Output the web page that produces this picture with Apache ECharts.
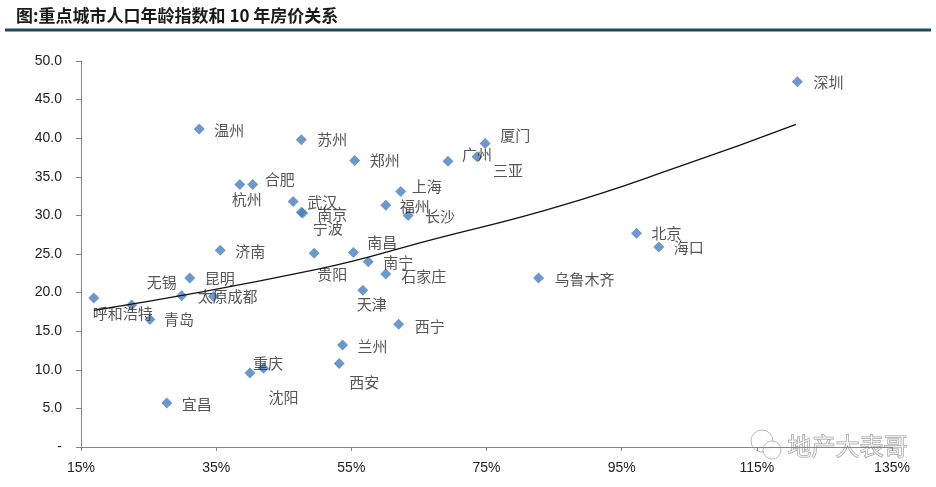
<!DOCTYPE html>
<html>
<head>
<meta charset="utf-8">
<script src="https://cdn.jsdelivr.net/npm/echarts@6/dist/echarts.min.js"></script>
<style>
  html, body { margin: 0; padding: 0; background: #fff; }
  #chart { width: 936px; height: 487px; }
</style>
</head>
<body>
<div id="chart"></div>
<script>
// 城市、人口年龄指数(x, %)、10年房价涨幅(y)
const cities = ['深圳', '温州', '苏州', '厦门', '广州', '三亚', '郑州', '杭州', '合肥', '上海',
  '武汉', '福州', '南京', '宁波', '长沙', '北京', '海口', '济南', '贵阳', '南昌',
  '南宁', '石家庄', '乌鲁木齐', '昆明', '太原', '成都', '呼和浩特', '无锡', '青岛', '天津',
  '西宁', '兰州', '西安', '重庆', '沈阳', '宜昌']
const ageIndex = [121.0, 32.5, 47.6, 74.8, 69.3, 73.6, 55.5, 38.5, 40.4, 62.3,
  46.4, 60.1, 47.6, 47.8, 63.4, 97.2, 100.5, 35.6, 49.5, 55.3,
  57.5, 60.1, 82.7, 31.1, 29.9, 34.6, 16.9, 22.5, 25.2, 56.7,
  62.0, 53.7, 53.2, 40.0, 42.0, 27.7]
const priceIdx = [47.3, 41.2, 39.8, 39.3, 37.0, 37.6, 37.1, 34.0, 34.0, 33.1,
  31.8, 31.3, 30.4, 30.3, 30.0, 27.7, 25.9, 25.5, 25.1, 25.2,
  24.0, 22.4, 21.9, 21.9, 19.6, 19.5, 19.3, 18.4, 16.5, 20.3,
  15.9, 13.2, 10.8, 9.6, 10.2, 5.7]

// 趋势线
const trendX = [16.9, 49.9, 67.1, 85.8, 104.1, 120.8]
const trendY = [17.7, 23.0, 26.9, 31.2, 36.5, 41.8]

const xTicks = [15, 35, 55, 75, 95, 115, 135]
const yTicks = [0, 5, 10, 15, 20, 25, 30, 35, 40, 45, 50]

// 标签偏移(相对点中心, px)
const labelOffset = {
  '深圳': [31, 0], '温州': [30, 1], '苏州': [31, 0], '厦门': [30, -8], '广州': [29, -7],
  '三亚': [31, 14], '郑州': [30, 0], '杭州': [7, 15], '合肥': [27, -5], '上海': [26, -5],
  '武汉': [29, 1], '福州': [29, 1], '南京': [31, 2], '宁波': [25, 15], '长沙': [32, 1],
  '北京': [30, 0], '海口': [30, 0], '济南': [30, 1], '贵阳': [18, 21], '南昌': [29, -10],
  '南宁': [30, 1], '石家庄': [38, 2], '乌鲁木齐': [46, 1], '昆明': [30, 0], '太原': [31, 1],
  '成都': [29, 0], '呼和浩特': [29, 15], '无锡': [30, -23], '青岛': [29, 0], '天津': [9, 14],
  '西宁': [31, 2], '兰州': [30, 1], '西安': [25, 19], '重庆': [18, -10], '沈阳': [20, 29],
  '宜昌': [30, 1]
}

const chart = echarts.init(document.getElementById('chart'))
const scatterData = cities.map((name, i) => ({
  name: name,
  value: [ageIndex[i], priceIdx[i]],
  label: { offset: labelOffset[name] || [30, 0] }
}))

const option = {
  animation: false,
  backgroundColor: '#fff',
  graphic: [
    {
      type: 'text', left: 16, top: 7,
      style: {
        text: '图:重点城市人口年龄指数和 10 年房价关系',
        font: 'bold 17px "Noto Sans CJK SC"', fill: '#1a1a1a'
      }
    },
    {
      type: 'rect', shape: { x: 5, y: 28.5, width: 926, height: 3 },
      style: { fill: '#1f4a5c' }
    },
    // 水印
    {
      type: 'circle', shape: { cx: 762, cy: 441, r: 11 },
      style: { fill: 'rgba(255,255,255,0.7)', stroke: '#bbb', lineWidth: 1 }
    },
    {
      type: 'circle', shape: { cx: 772, cy: 450, r: 9 },
      style: { fill: 'rgba(255,255,255,0.8)', stroke: '#bbb', lineWidth: 1 }
    },
    {
      type: 'text', left: 787, top: 433,
      style: {
        text: '地产大表哥', font: '24px "Noto Sans CJK SC"',
        fill: 'rgba(255,255,255,0.6)', stroke: '#999', lineWidth: 1
      }
    }
  ],
  grid: { left: 81, right: 44, top: 61, bottom: 40 },
  xAxis: {
    type: 'value', min: 15, max: 135, interval: 20,
    axisLine: { lineStyle: { color: '#868686' } },
    axisTick: { show: true, length: 4, lineStyle: { color: '#868686' } },
    splitLine: { show: false },
    axisLabel: {
      margin: 14, color: '#222', fontSize: 14, fontFamily: 'Liberation Sans',
      formatter: v => (xTicks.includes(v) ? v + '%' : '')
    }
  },
  yAxis: {
    type: 'value', min: 0, max: 50, interval: 5,
    axisLine: { show: true, lineStyle: { color: '#868686' } },
    axisTick: { show: true, length: 5, lineStyle: { color: '#868686' } },
    splitLine: { show: false },
    axisLabel: {
      margin: 19, color: '#222', fontSize: 14, fontFamily: 'Liberation Sans',
      formatter: v => (yTicks.includes(v) ? (v === 0 ? '-' : v.toFixed(1)) : '')
    }
  },
  series: [
    {
      type: 'scatter',
      symbol: 'diamond',
      symbolSize: 11,
      itemStyle: { color: '#4a7ebb' },
      label: {
        show: true, position: 'inside', formatter: '{b}',
        color: '#2a2a2a', fontSize: 15, fontFamily: 'Noto Sans CJK SC'
      },
      data: scatterData,
      z: 2
    },
    {
      type: 'line',
      smooth: true,
      symbol: 'none',
      lineStyle: { color: '#111', width: 1.3 },
      data: trendX.map((x, i) => [x, trendY[i]]),
      z: 3
    }
  ]
}
chart.setOption(option)
</script>
</body>
</html>
